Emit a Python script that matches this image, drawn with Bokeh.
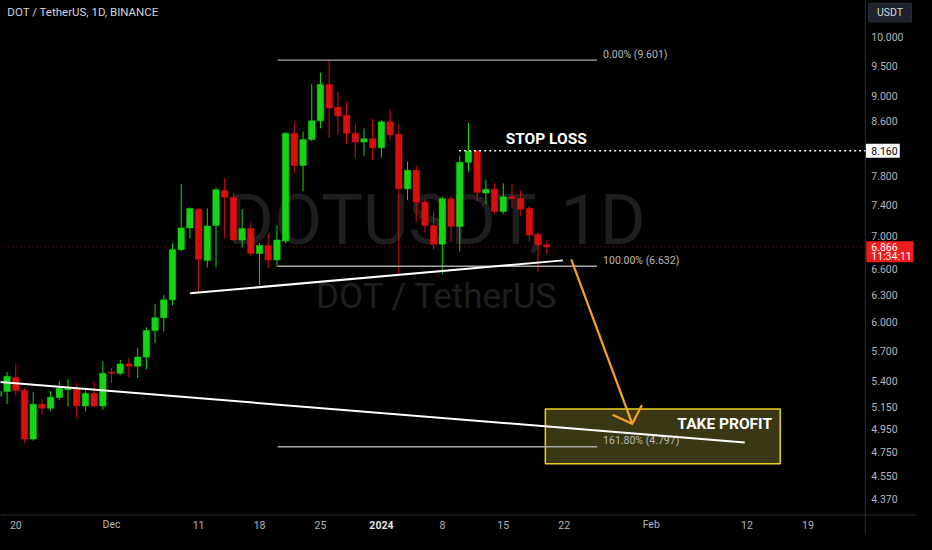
import pandas as pd
from bokeh.plotting import figure
from bokeh.models import Range1d, ColumnDataSource, GlobalInlineStyleSheet
from bokeh.core.properties import value
from bokeh.embed import file_html
from bokeh.resources import INLINE

# ------------------------------------------------------------------ data
first_day = "2023-11-18"
last_day = "2024-01-20"
opens = [5.252, 5.297, 5.432, 5.307, 4.864, 5.176, 5.140, 5.240, 5.316, 5.329,
         5.161, 5.279, 5.161, 5.485, 5.473, 5.566, 5.543, 5.634, 5.909, 6.047,
         6.244, 6.832, 7.104, 7.347, 6.702, 7.136, 7.598, 7.506, 6.952, 7.095,
         6.784, 6.884, 6.707, 6.940, 8.420, 7.946, 8.324, 8.609, 9.187, 8.821,
         8.695, 8.420, 8.289, 8.338, 8.203, 8.594, 8.406, 7.620, 7.877, 7.441,
         7.136, 6.900, 7.485, 7.123, 7.991, 8.155, 7.563, 7.616, 7.317, 7.511,
         7.489, 7.359, 7.025, 6.892]
highs = [5.341, 5.485, 5.569, 5.329, 5.292, 5.224, 5.301, 5.391, 5.416, 5.378,
         5.307, 5.391, 5.591, 5.528, 5.608, 5.625, 5.724, 5.943, 6.201, 6.299,
         6.912, 7.683, 7.372, 7.360, 7.356, 7.638, 7.764, 7.563, 7.347, 7.170,
         6.912, 7.033, 7.136, 8.430, 8.583, 8.445, 9.198, 9.387, 9.601, 9.066,
         8.909, 8.568, 8.494, 8.643, 8.619, 8.795, 8.568, 7.999, 7.946, 7.476,
         7.325, 7.511, 7.519, 8.085, 8.579, 8.160, 7.750, 7.696, 7.696, 7.683,
         7.598, 7.389, 7.042, 6.952]
lows = [5.230, 5.179, 5.261, 4.830, 4.850, 5.087, 5.111, 5.215, 5.155, 5.043,
        5.111, 5.150, 5.125, 5.378, 5.454, 5.432, 5.425, 5.511, 5.780, 5.902,
        6.183, 6.816, 6.972, 6.317, 6.617, 6.617, 6.972, 6.932, 6.860, 6.754,
        6.413, 6.609, 6.625, 6.912, 7.840, 7.585, 8.300, 8.494, 8.347, 8.397,
        8.260, 8.053, 8.085, 8.025, 8.061, 8.324, 6.522, 7.467, 7.178, 7.046,
        6.832, 6.537, 6.920, 6.813, 7.853, 7.454, 7.411, 7.283, 7.283, 7.368,
        7.261, 6.932, 6.568, 6.784]
closes = [5.297, 5.441, 5.307, 4.864, 5.176, 5.140, 5.242, 5.329, 5.329, 5.161,
          5.279, 5.161, 5.473, 5.473, 5.566, 5.543, 5.634, 5.909, 6.047, 6.244,
          6.832, 7.104, 7.356, 6.714, 7.128, 7.607, 7.506, 6.952, 7.095, 6.784,
          6.884, 6.707, 6.952, 8.420, 7.946, 8.324, 8.609, 9.187, 8.810, 8.684,
          8.420, 8.289, 8.338, 8.203, 8.594, 8.397, 7.620, 7.877, 7.441, 7.136,
          6.900, 7.485, 7.123, 7.991, 8.155, 7.571, 7.616, 7.317, 7.511, 7.489,
          7.347, 7.013, 6.892, 6.866]

last_price = 6.866
countdown = "11:34:11"
stop_loss = 8.160
quote_currency = "USDT"

fib_levels = [9.601, 6.632, 4.797]
fib_texts = ["0.00% (9.601)", "100.00% (6.632)", "161.80% (4.797)"]
fib_from, fib_to = "2023-12-20 02:00", "2024-01-25 18:40"

support_dates = ["2023-12-10 00:45", "2024-01-21 20:24"]
support_prices = [6.318, 6.702]
long_trend_dates = ["2023-11-18 00:00", "2024-02-11 17:45"]
long_trend_prices = [5.389, 4.833]

arrow_dates = ["2024-01-22 19:26", "2024-01-29 19:26"]
arrow_prices = [6.714, 4.999]
arrow_head_dates = ["2024-01-27 13:12", "2024-01-29 19:26", "2024-01-30 22:19"]
arrow_head_prices = [5.081, 4.999, 5.170]

tp_dates = ["2024-01-19 20:00", "2024-02-15 19:30"]
tp_prices = [4.652, 5.134]
sl_start = "2024-01-09 22:20"

price_ticks = [10.0, 9.5, 9.0, 8.6, 7.8, 7.4, 7.0, 6.6, 6.3, 6.0, 5.7, 5.4,
               5.15, 4.95, 4.75, 4.55, 4.37]
date_ticks = ["2023-11-20", "2023-12-01", "2023-12-11", "2023-12-18", "2023-12-25",
              "2024-01-08", "2024-01-15", "2024-01-22", "2024-02-01",
              "2024-02-12", "2024-02-19"]
date_tick_labels = ["20", "Dec", "11", "18", "25", "8", "15", "22", "Feb", "12", "19"]
year_tick = "2024-01-01"
year_label = "2024"

# ------------------------------------------------------------------ layout anchors
X_START, X_END = "2023-11-18 05:50", "2024-03-02 11:17"   # window edges
Y_LOW, Y_HIGH = 4.098, 10.684
SCALE_EDGE_X = "2024-02-25 14:24"       # price-scale separator
TIME_EDGE_Y = 4.2437                    # time-scale separator
SCALE_TEXT_X = "2024-02-26 06:30"
TIME_TEXT_Y = 4.170

DAY = 86_400_000


def ms(s):
    return int(pd.Timestamp(s).value // 1_000_000)


FONT = value("Roboto")
GREEN, RED = "#14d414", "#d80f0f"
AXIS_TXT = "#b2b5be"
SEP = "#2a2e39"

dates = pd.date_range(first_day, last_day, freq="D")
xs = [int(d.value // 1_000_000) for d in dates]
colors = [GREEN if c >= o else RED for o, c in zip(opens, closes)]
src = ColumnDataSource(dict(
    x=xs, high=highs, low=lows,
    top=[max(o, c) for o, c in zip(opens, closes)],
    bottom=[min(o, c) for o, c in zip(opens, closes)],
    color=colors))

p = figure(width=916, height=534, title=None, toolbar_location=None,
           output_backend="svg",
           x_range=Range1d(ms(X_START), ms(X_END)),
           y_range=Range1d(Y_LOW, Y_HIGH), y_axis_type="log",
           x_axis_location=None, y_axis_location=None,
           min_border=0, min_border_left=0, min_border_right=0,
           min_border_top=0, min_border_bottom=0,
           background_fill_color="black", border_fill_color="black",
           outline_line_color=None)
p.stylesheets = [GlobalInlineStyleSheet(css="html, body { background-color: #000000; }")]
p.xgrid.visible = False
p.ygrid.visible = False
for g in p.grid:
    g.grid_line_color = None

# watermark
p.text(x=[ms("2024-01-07 09:00")], y=[7.207], text=["DOTUSDT, 1D"],
       text_font=FONT, text_font_size="70px", text_color="#1e1e1e",
       text_align="center", text_baseline="middle")
p.text(x=[ms("2024-01-07 09:00")], y=[6.281], text=["DOT / TetherUS"],
       text_font=FONT, text_font_size="35px", text_color="#1e1e1e",
       text_align="center", text_baseline="middle")

# scale separators
p.segment(x0=[ms(SCALE_EDGE_X)], y0=[Y_LOW], x1=[ms(SCALE_EDGE_X)], y1=[Y_HIGH],
          line_color=SEP, line_width=1)
p.segment(x0=[ms(X_START)], y0=[TIME_EDGE_Y], x1=[ms(X_END)], y1=[TIME_EDGE_Y],
          line_color=SEP, line_width=1)

# current price line
p.segment(x0=[ms(X_START)], y0=[last_price], x1=[ms(SCALE_EDGE_X)], y1=[last_price],
          line_color="#8a1212", line_width=1, line_dash="1 3")

# take profit zone
p.quad(left=[ms(tp_dates[0])], right=[ms(tp_dates[1])], bottom=[tp_prices[0]],
       top=[tp_prices[1]], fill_color="#3a3814", line_color="#ecd21c", line_width=1.5)

# candles
p.segment(x0="x", y0="low", x1="x", y1="high", source=src, line_color="color", line_width=1)
p.vbar(x="x", width=0.74 * DAY, top="top", bottom="bottom", source=src,
       fill_color="color", line_color="color", line_width=0.5)

# fib levels
for lvl, txt in zip(fib_levels, fib_texts):
    p.line(x=[ms(fib_from), ms(fib_to)], y=[lvl, lvl], line_color="#a8a8a8", line_width=1.3)
    p.text(x=[ms(fib_to)], y=[lvl], text=[txt], x_offset=6, y_offset=-6,
           text_font=FONT, text_font_size="10.5px", text_color="#b8b8b8",
           text_align="left", text_baseline="middle")

# trend lines
p.line(x=[ms(d) for d in support_dates], y=support_prices, line_color="white", line_width=2)
p.line(x=[ms(d) for d in long_trend_dates], y=long_trend_prices, line_color="white", line_width=2)

# arrow
ORANGE = "#f7a01c"
p.line(x=[ms(d) for d in arrow_dates], y=arrow_prices, line_color=ORANGE, line_width=2.2)
p.line(x=[ms(d) for d in arrow_head_dates], y=arrow_head_prices, line_color=ORANGE,
       line_width=2.2, line_join="miter")

# stop loss
p.segment(x0=[ms(sl_start)], y0=[stop_loss], x1=[ms(SCALE_EDGE_X)], y1=[stop_loss],
          line_color="white", line_width=1.5, line_dash="2 3")
p.text(x=[ms("2024-01-15 06:30")], y=[stop_loss], text=["STOP LOSS"], y_offset=-12,
       text_font=FONT, text_font_size="15.5px", text_font_style="bold",
       text_color="white", text_align="left", text_baseline="middle")
p.text(x=[ms("2024-02-14 21:00")], y=[4.999], text=["TAKE PROFIT"],
       text_font=FONT, text_font_size="15.5px", text_font_style="bold",
       text_color="white", text_align="right", text_baseline="middle")

# chart title
p.text(x=[ms("2023-11-19 00:45")], y=[10.463], text=["DOT / TetherUS, 1D, BINANCE"],
       text_font=FONT, text_font_size="11.5px", text_color="#d1d4dc",
       text_align="left", text_baseline="middle")

# ---------------- price scale
p.text(x=[ms(SCALE_TEXT_X)] * len(price_ticks), y=price_ticks,
       text=[f"{t:.3f}" for t in price_ticks],
       text_font=FONT, text_font_size="10.5px", text_color=AXIS_TXT,
       text_align="left", text_baseline="middle")
# stop-loss price tag
p.quad(left=[ms("2024-02-25 16:00")], right=[ms("2024-02-29 13:10")],
       bottom=[8.057], top=[8.263], fill_color="white", line_color=None)
p.text(x=[ms(SCALE_TEXT_X)], y=[stop_loss], text=[f"{stop_loss:.3f}"],
       text_font=FONT, text_font_size="10.5px", text_color="black",
       text_align="left", text_baseline="middle")
# last price tag
p.quad(left=[ms("2024-02-25 17:00")], right=[ms("2024-03-02 03:10")],
       bottom=[6.681], top=[6.936], fill_color="#ee1c1c", line_color=None)
p.text(x=[ms(SCALE_TEXT_X)], y=[last_price], text=[f"{last_price:.3f}"],
       text_font=FONT, text_font_size="10.5px", text_color="white",
       text_align="left", text_baseline="middle")
p.text(x=[ms(SCALE_TEXT_X)], y=[last_price], y_offset=10, text=[countdown],
       text_font=FONT, text_font_size="10.5px", text_color="white",
       text_align="left", text_baseline="middle")
# currency button
p.quad(left=[ms("2024-02-25 22:30")], right=[ms("2024-03-01 21:36")],
       bottom=[10.283], top=[10.629], fill_color="#1e222d", line_color="#2a2e39")
p.text(x=[ms("2024-02-28 10:00")], y=[10.454], text=[quote_currency],
       text_font=FONT, text_font_size="10.5px", text_color="#d1d4dc",
       text_align="center", text_baseline="middle")

# ---------------- time scale
p.text(x=[ms(d) for d in date_ticks], y=[TIME_TEXT_Y] * len(date_ticks),
       text=date_tick_labels, text_font=FONT, text_font_size="10.5px",
       text_color=AXIS_TXT, text_align="center", text_baseline="middle")
p.text(x=[ms(year_tick)], y=[TIME_TEXT_Y], text=[year_label],
       text_font=FONT, text_font_size="10.5px", text_font_style="bold",
       text_color="#e0e3eb", text_align="center", text_baseline="middle")

open("out.html", "w").write(file_html(p, INLINE))
